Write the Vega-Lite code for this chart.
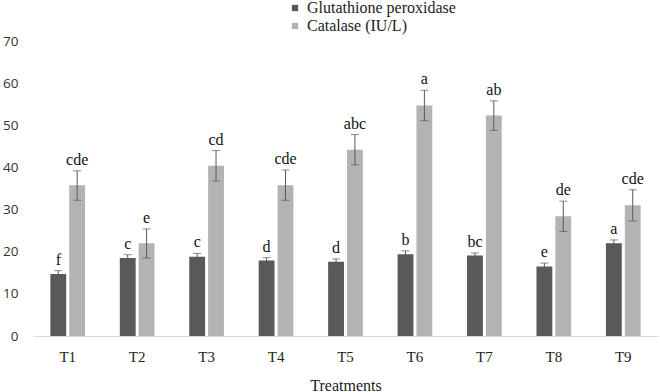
{
  "$schema": "https://vega.github.io/schema/vega-lite/v6.json",
  "width": 625,
  "height": 295,
  "autosize": "none",
  "padding": {"left": 33, "top": 41, "right": 2, "bottom": 56},
  "background": "white",
  "config": {"view": {"stroke": null}, "font": "'Times New Roman', 'Liberation Serif', serif"},
  "data": {
    "values": [
      {"t": "T1", "series": "Glutathione peroxidase", "v": 14.7, "lo": 13.9, "hi": 15.5, "lab": "f"},
      {"t": "T1", "series": "Catalase (IU/L)", "v": 35.8, "lo": 32.2, "hi": 39.2, "lab": "cde"},
      {"t": "T2", "series": "Glutathione peroxidase", "v": 18.5, "lo": 17.7, "hi": 19.3, "lab": "c"},
      {"t": "T2", "series": "Catalase (IU/L)", "v": 22.0, "lo": 18.5, "hi": 25.4, "lab": "e"},
      {"t": "T3", "series": "Glutathione peroxidase", "v": 18.8, "lo": 18.0, "hi": 19.6, "lab": "c"},
      {"t": "T3", "series": "Catalase (IU/L)", "v": 40.4, "lo": 36.8, "hi": 44.0, "lab": "cd"},
      {"t": "T4", "series": "Glutathione peroxidase", "v": 17.9, "lo": 17.2, "hi": 18.6, "lab": "d"},
      {"t": "T4", "series": "Catalase (IU/L)", "v": 35.8, "lo": 32.2, "hi": 39.4, "lab": "cde"},
      {"t": "T5", "series": "Glutathione peroxidase", "v": 17.6, "lo": 16.9, "hi": 18.3, "lab": "d"},
      {"t": "T5", "series": "Catalase (IU/L)", "v": 44.2, "lo": 40.6, "hi": 47.8, "lab": "abc"},
      {"t": "T6", "series": "Glutathione peroxidase", "v": 19.4, "lo": 18.6, "hi": 20.2, "lab": "b"},
      {"t": "T6", "series": "Catalase (IU/L)", "v": 54.7, "lo": 51.1, "hi": 58.3, "lab": "a"},
      {"t": "T7", "series": "Glutathione peroxidase", "v": 19.1, "lo": 18.5, "hi": 19.7, "lab": "bc"},
      {"t": "T7", "series": "Catalase (IU/L)", "v": 52.3, "lo": 48.8, "hi": 55.8, "lab": "ab"},
      {"t": "T8", "series": "Glutathione peroxidase", "v": 16.5, "lo": 15.7, "hi": 17.3, "lab": "e"},
      {"t": "T8", "series": "Catalase (IU/L)", "v": 28.4, "lo": 24.8, "hi": 32.0, "lab": "de"},
      {"t": "T9", "series": "Glutathione peroxidase", "v": 22.0, "lo": 21.2, "hi": 22.8, "lab": "a"},
      {"t": "T9", "series": "Catalase (IU/L)", "v": 31.0, "lo": 27.3, "hi": 34.7, "lab": "cde"}
    ]
  },
  "encoding": {
    "x": {
      "field": "t",
      "type": "nominal",
      "title": "Treatments",
      "scale": {"paddingInner": 0.5, "paddingOuter": 0.25},
      "axis": {
        "labelFont": "'Times New Roman', 'Liberation Serif', serif",
        "labelFontSize": 15,
        "labelColor": "#222222",
        "labelPadding": 13,
        "labelAngle": 0,
        "ticks": false,
        "domainColor": "#d9d9d9",
        "domainWidth": 1,
        "titleFont": "'Times New Roman', 'Liberation Serif', serif",
        "titleFontSize": 16,
        "titleFontWeight": "normal",
        "titleColor": "#222222",
        "titlePadding": 13
      }
    },
    "xOffset": {
      "field": "series",
      "type": "nominal",
      "scale": {"domain": ["Glutathione peroxidase", "Catalase (IU/L)"], "paddingInner": 0.16}
    }
  },
  "layer": [
    {
      "mark": {"type": "bar"},
      "encoding": {
        "y": {
          "field": "v",
          "type": "quantitative",
          "title": null,
          "scale": {"domain": [0, 70], "nice": false},
          "axis": {
            "values": [0, 10, 20, 30, 40, 50, 60, 70],
            "domain": false,
            "ticks": false,
            "grid": false,
            "labelFont": "Open Sans",
            "labelFontSize": 13.5,
            "labelColor": "#333333",
            "labelPadding": 15
          }
        },
        "color": {
          "field": "series",
          "type": "nominal",
          "scale": {"domain": ["Glutathione peroxidase", "Catalase (IU/L)"], "range": ["#595959", "#b3b3b3"]},
          "legend": {
            "orient": "none",
            "legendX": 254,
            "legendY": -41,
            "direction": "vertical",
            "title": null,
            "symbolType": "square",
            "symbolSize": 40,
            "symbolStrokeWidth": 0,
            "labelFont": "'Times New Roman', 'Liberation Serif', serif",
            "labelFontSize": 16,
            "labelColor": "#222222",
            "labelOffset": 4,
            "rowPadding": 2,
            "padding": 0
          }
        }
      }
    },
    {
      "mark": {"type": "rule", "color": "#595959", "strokeWidth": 1},
      "encoding": {
        "y": {"field": "lo", "type": "quantitative", "title": null},
        "y2": {"field": "hi"}
      }
    },
    {
      "mark": {"type": "tick", "color": "#595959", "thickness": 1, "size": 8},
      "encoding": {"y": {"field": "hi", "type": "quantitative", "title": null}}
    },
    {
      "mark": {"type": "tick", "color": "#595959", "thickness": 1, "size": 8},
      "encoding": {"y": {"field": "lo", "type": "quantitative", "title": null}}
    },
    {
      "mark": {"type": "text", "baseline": "alphabetic", "dy": -6, "fontSize": 16, "font": "'Times New Roman', 'Liberation Serif', serif", "color": "#111111"},
      "encoding": {
        "y": {"field": "hi", "type": "quantitative", "title": null},
        "text": {"field": "lab"}
      }
    }
  ]
}
